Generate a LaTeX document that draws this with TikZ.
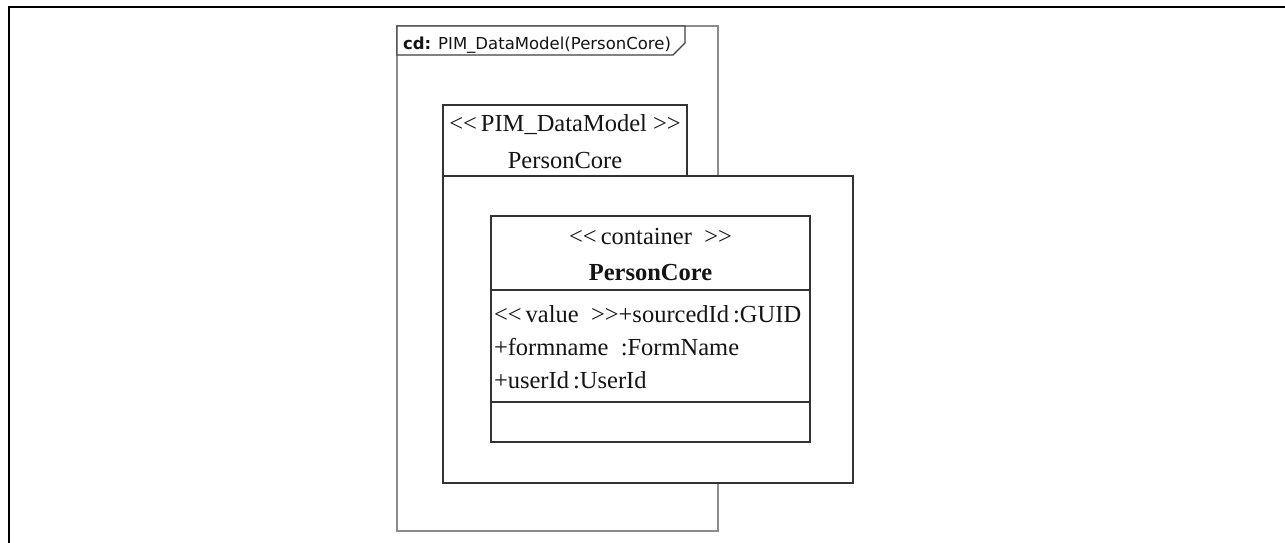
\documentclass[tikz,border=0pt]{standalone}
\usepackage{fontspec}
\setmainfont[Ligatures=NoCommon]{Liberation Serif}
\newfontfamily\umlsans{DejaVu Sans}
\newcommand{\stl}{<{}<}
\newcommand{\str}{>{}>}
\begin{document}
\begin{tikzpicture}[x=1pt,y=-1pt,
  every node/.style={inner sep=0pt,outer sep=0pt,text=black!92},
  framestyle/.style={draw=black!45,line width=1.4pt},
  tabstyle/.style={draw=black!75,line width=1.4pt,fill=white},
  boxstyle/.style={draw=black!80,line width=1.8pt,fill=white,rectangle},
  serif/.style={font=\fontsize{24.5}{36}\selectfont},
  tabtext/.style={font=\umlsans\fontsize{16.5}{18}\selectfont}]
\useasboundingbox (0,0) rectangle (1285,543);
% sheet border (left and top only)
\draw[line width=2.6pt,black] (9,543) -- (9,7) -- (1285,7);
% diagram frame with its name tab
\draw[framestyle] (397,26) rectangle (718,531);
\draw[tabstyle] (397,26) -- (685,26) -- (685,43) -- (673,55) -- (397,55) -- cycle;
\node[tabtext,anchor=base west] (framename) at (403,49) {\textbf{cd:} PIM\_DataModel(PersonCore)};
% package
\node[boxstyle,minimum width=244,minimum height=71,anchor=north west] (pkgtab) at (443,105) {};
\node[boxstyle,minimum width=410,minimum height=307,anchor=north west] (pkgbody) at (443,176) {};
\node[serif,anchor=base] (pkgstereo) at (565,131) {\stl\,PIM\_DataModel \str};
\node[serif,anchor=base] (pkgname) at (565,168) {PersonCore};
% class compartments
\node[boxstyle,minimum width=319,minimum height=74,anchor=north west] (clshead) at (491,216) {};
\node[boxstyle,minimum width=319,minimum height=112,anchor=north west] (clsattr) at (491,290) {};
\node[boxstyle,minimum width=319,minimum height=40,anchor=north west] (clsops) at (491,402) {};
\node[serif,anchor=base] (clsstereo) at (650.5,244) {\stl\,container~~\str};
\node[serif,anchor=base] (clsname) at (650.5,280) {\textbf{PersonCore}};
\node[serif,anchor=base west] (attr1) at (494,322) {\stl\,value~~\str+sourcedId\,:GUID};
\node[serif,anchor=base west] (attr2) at (494,355) {+formname~~:FormName};
\node[serif,anchor=base west] (attr3) at (494,388) {+userId\,:UserId};
\end{tikzpicture}
\end{document}
